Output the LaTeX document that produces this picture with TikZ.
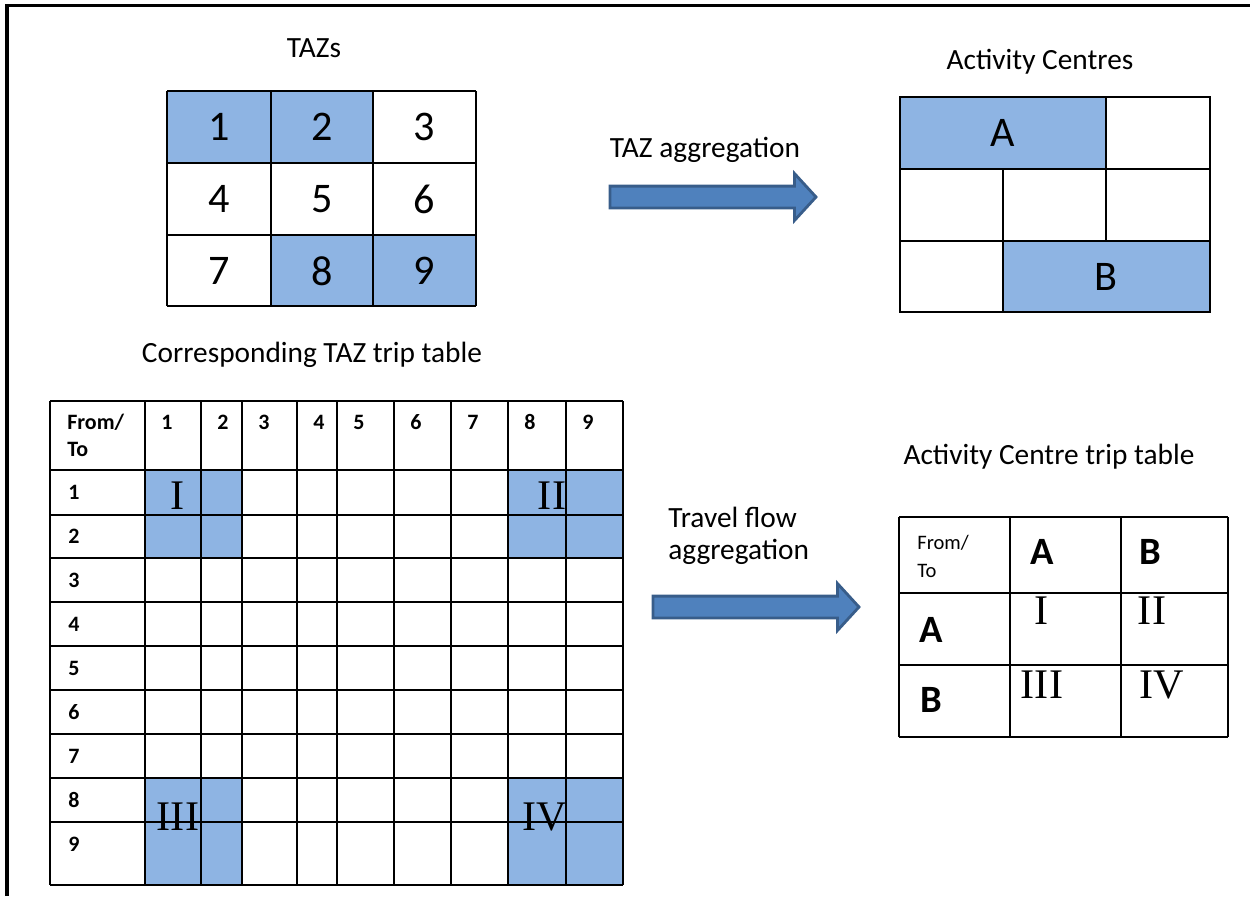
\documentclass[tikz,border=0pt]{standalone}
\usepackage{fontspec}
\setmainfont{Carlito}
\newfontfamily\romanfont{Liberation Serif}
\usetikzlibrary{shapes.arrows}
\definecolor{cellblue}{RGB}{142,180,227}
\definecolor{arrowfill}{RGB}{79,129,189}
\definecolor{arrowedge}{RGB}{56,93,138}
\begin{document}
\begin{tikzpicture}[x=0.02cm, y=-0.02cm,
          title/.style={font=\fontsize{16.7}{20}\selectfont, inner sep=0pt},
          zone/.style={font=\fontsize{24}{28}\selectfont, inner sep=0pt},
          hdr/.style={font=\fontsize{12.5}{15}\selectfont\bfseries, inner sep=0pt},
          bighdr/.style={font=\fontsize{22}{26}\selectfont\bfseries, inner sep=0pt},
          numeral/.style={font=\fontsize{24}{28}\selectfont\romanfont, inner sep=0pt},
          gridline/.style={line width=1.2pt},
          blockarrow/.style={single arrow, draw=arrowedge, fill=arrowfill, line width=1.6pt,
                             inner xsep=0pt, inner ysep=0.19cm, single arrow head extend=0.25cm,
                             single arrow tip angle=95}]
        \useasboundingbox (0,0) rectangle (1250,896);
        % frame
        \draw[line width=1.8pt] (7,896) -- (7,5.5) -- (1250,5.5);

        % TAZ zones
        \node[title] (tazs) at (314,48) {TAZs};
        \fill[cellblue] (167,91) rectangle (373,163);
        \fill[cellblue] (271,235) rectangle (476,306);
        \foreach \x in {167,271,373,476} \draw[gridline] (\x,91) -- (\x,306);
        \foreach \y in {91,163,235,306} \draw[gridline] (167,\y) -- (476,\y);
        \foreach \n/\x/\y in {1/219/127, 2/322/127, 3/424/127, 4/219/199, 5/322/199,
                              6/424/199, 7/219/271, 8/322/271, 9/424/271}
          \node[zone] (taz\n) at (\x,\y) {\n};

        % activity centres
        \node[title] (actc) at (1040,62) {Activity Centres};
        \fill[cellblue] (900,97) rectangle (1106,169);
        \fill[cellblue] (1003,241) rectangle (1210,312);
        \draw[gridline] (900,97) rectangle (1210,312);
        \draw[gridline] (900,169) -- (1210,169);
        \draw[gridline] (900,241) -- (1210,241);
        \draw[gridline] (1106,97) -- (1106,241);
        \draw[gridline] (1003,169) -- (1003,312);
        \node[zone] (acA) at (1003,133) {A};
        \node[zone] (acB) at (1106,277) {B};

        \node[title] (aggr1lbl) at (705,150) {TAZ aggregation};
        \node[blockarrow, minimum height=206*0.02cm] (aggr1) at (708,197) {};

        % TAZ trip table
        \node[title] (tazlbl) at (312,355) {Corresponding TAZ trip table};
        \fill[cellblue] (145,470) rectangle (242,558);
        \fill[cellblue] (508,470) rectangle (623,558);
        \fill[cellblue] (145,778) rectangle (242,885);
        \fill[cellblue] (508,778) rectangle (623,885);
        \foreach \x in {50,145,201,242,297,337,394,451,508,566,623}
          \draw[gridline] (\x,401) -- (\x,885);
        \foreach \y in {401,470,515,558,602,646,690,734,778,822,885}
          \draw[gridline] (50,\y) -- (623,\y);
        \node[hdr, anchor=west] (fromto) at (67,422) {From/};
        \node[hdr, anchor=west] (fromto2) at (67,449) {To};
        \foreach \n/\x in {1/145,2/201,3/242,4/297,5/337,6/394,7/451,8/508,9/566}
          \node[hdr] (col\n) at (\x+22,422) {\n};
        \foreach \n/\y in {1/492,2/536,3/580,4/624,5/668,6/712,7/756,8/800,9/844}
          \node[hdr] (row\n) at (74,\y) {\n};
        \node[numeral] (q1) at (178,496) {I};
        \node[numeral] (q2) at (552,496) {II};
        \node[numeral] (q3) at (178,817) {III};
        \node[numeral] (q4) at (545,817) {IV};

        \node[title, anchor=west] (aggr2lbl) at (668,517) {Travel flow};
        \node[title, anchor=west] (aggr2lbl2) at (668,552) {aggregation};
        \node[blockarrow, minimum height=206*0.02cm] (aggr2) at (751,607) {};

        % activity centre trip table
        \node[title] (actlbl) at (1049,457) {Activity Centre trip table};
        \foreach \x in {899,1010,1121,1228} \draw[gridline] (\x,517) -- (\x,737);
        \foreach \y in {517,593,665,737} \draw[gridline] (899,\y) -- (1228,\y);
        \node[anchor=west, inner sep=0pt, font=\fontsize{11.7}{14}\selectfont] (sfrom) at (917,543) {From/};
        \node[anchor=west, inner sep=0pt, font=\fontsize{11.7}{14}\selectfont] (sto) at (917,571) {To};
        \node[bighdr] (colA) at (1042,552) {A};
        \node[bighdr] (colB) at (1150,552) {B};
        \node[bighdr] (rowA) at (931,630) {A};
        \node[bighdr] (rowB) at (931,700) {B};
        \node[numeral] (s1) at (1042,611) {I};
        \node[numeral] (s2) at (1152,611) {II};
        \node[numeral] (s3) at (1042,685) {III};
        \node[numeral] (s4) at (1162,685) {IV};
\end{tikzpicture}
\end{document}
